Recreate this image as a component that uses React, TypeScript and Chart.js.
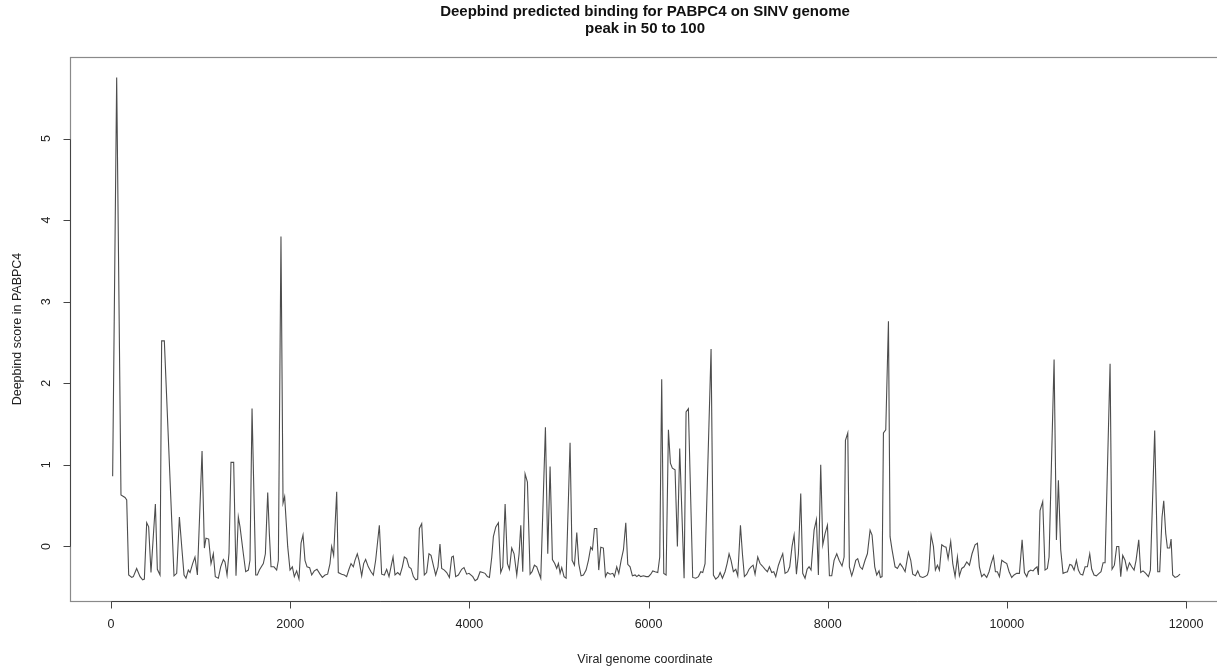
import React, { useEffect, useRef } from "react";
import { Chart, registerables } from "chart.js";

Chart.register(...registerables);

const TITLE_LINES = ["Deepbind predicted binding for PABPC4 on SINV genome", "peak in 50 to 100"];
const X_TITLE = "Viral genome coordinate";
const Y_TITLE = "Deepbind score in PABPC4";
const X_TICKS = [0, 2000, 4000, 6000, 8000, 10000, 12000];
const Y_TICKS = [0, 1, 2, 3, 4, 5];

// [genome coordinate, deepbind score]
const SEG_0_2000: [number, number][] = [
  [18, 0.86], [63, 5.75], [111, 0.63], [156, 0.6], [175, 0.57], [197, -0.35], [231, -0.38], [249, -0.37],
  [286, -0.27], [324, -0.37], [353, -0.41], [372, -0.4], [398, 0.29], [420, 0.24], [446, -0.32], [495, 0.52],
  [517, -0.28], [547, -0.35], [565, 2.52], [595, 2.52], [703, -0.36], [733, -0.33], [763, 0.36], [789, 0.0],
  [815, -0.35], [837, -0.39], [863, -0.29], [882, -0.32], [911, -0.21], [937, -0.13], [964, -0.35], [1016, 1.17],
  [1042, -0.02], [1060, 0.1], [1090, 0.09], [1116, -0.21], [1142, -0.09], [1164, -0.37], [1198, -0.39], [1224, -0.25],
  [1254, -0.16], [1272, -0.19], [1295, -0.35], [1317, -0.08], [1339, 1.03], [1369, 1.03], [1395, -0.36], [1421, 0.36],
  [1440, 0.24], [1477, -0.09], [1503, -0.31], [1533, -0.29], [1551, -0.17], [1574, 1.69], [1615, -0.35], [1633, -0.35],
  [1656, -0.29], [1700, -0.21], [1723, -0.09], [1749, 0.66], [1767, 0.16], [1786, -0.25], [1819, -0.25], [1849, -0.29],
  [1868, -0.17], [1897, 3.8], [1920, 0.53], [1938, 0.61], [1972, 0.0], [1998, -0.29],
];
const SEG_2000_4000: [number, number][] = [
  [2024, -0.25], [2046, -0.37], [2072, -0.3], [2098, -0.4], [2121, 0.04], [2143, 0.14], [2165, -0.17], [2188, -0.25],
  [2217, -0.26], [2240, -0.35], [2269, -0.3], [2299, -0.28], [2333, -0.34], [2359, -0.38], [2389, -0.35], [2418, -0.34],
  [2444, -0.21], [2463, 0.0], [2485, -0.11], [2519, 0.67], [2537, -0.32], [2575, -0.34], [2604, -0.35], [2630, -0.37],
  [2656, -0.28], [2679, -0.21], [2705, -0.25], [2723, -0.17], [2749, -0.09], [2768, -0.17], [2798, -0.36], [2820, -0.21],
  [2842, -0.16], [2872, -0.25], [2902, -0.31], [2928, -0.35], [2954, -0.17], [2995, 0.26], [3021, -0.34], [3051, -0.35],
  [3077, -0.28], [3103, -0.37], [3125, -0.25], [3148, -0.13], [3170, -0.35], [3200, -0.32], [3226, -0.35], [3252, -0.25],
  [3274, -0.13], [3300, -0.15], [3326, -0.25], [3349, -0.27], [3375, -0.37], [3401, -0.41], [3423, -0.4], [3442, 0.22],
  [3468, 0.28], [3497, -0.35], [3523, -0.32], [3549, -0.09], [3572, -0.11], [3602, -0.25], [3624, -0.35], [3650, -0.25],
  [3672, 0.03], [3691, -0.27], [3721, -0.29], [3747, -0.32], [3777, -0.38], [3803, -0.13], [3821, -0.12], [3847, -0.37],
  [3877, -0.35], [3914, -0.28], [3940, -0.26], [3970, -0.34], [3996, -0.33],
];
const SEG_4000_6000: [number, number][] = [
  [4038, -0.37], [4064, -0.42], [4090, -0.4], [4120, -0.31], [4149, -0.32], [4175, -0.33], [4201, -0.37], [4224, -0.38],
  [4250, -0.13], [4268, 0.12], [4295, 0.24], [4324, 0.29], [4350, -0.32], [4373, -0.25], [4399, 0.52], [4425, -0.21],
  [4447, -0.28], [4473, -0.02], [4499, -0.09], [4529, -0.35], [4555, -0.09], [4574, 0.26], [4596, -0.31], [4622, 0.89],
  [4648, 0.79], [4678, -0.34], [4700, -0.31], [4726, -0.23], [4752, -0.25], [4771, -0.31], [4797, -0.39], [4849, 1.46],
  [4875, -0.09], [4901, 0.98], [4927, -0.16], [4953, -0.21], [4975, -0.27], [4994, -0.21], [5013, -0.33], [5031, -0.26],
  [5057, -0.37], [5080, -0.39], [5124, 1.27], [5147, -0.17], [5173, -0.23], [5199, 0.17], [5221, -0.21], [5247, -0.36],
  [5273, -0.35], [5303, -0.29], [5329, -0.17], [5355, -0.01], [5374, -0.04], [5396, 0.22], [5422, 0.22], [5444, -0.29],
  [5467, -0.01], [5496, -0.02], [5519, -0.37], [5541, -0.32], [5571, -0.34], [5601, -0.33], [5619, -0.37], [5645, -0.25],
  [5668, -0.33], [5694, -0.17], [5720, -0.04], [5746, 0.29], [5768, -0.22], [5794, -0.25], [5820, -0.36], [5850, -0.35],
  [5869, -0.37], [5891, -0.35], [5913, -0.37], [5943, -0.36], [5973, -0.37], [5999, -0.37],
];
const SEG_6000_8000: [number, number][] = [
  [6025, -0.34], [6047, -0.3], [6073, -0.31], [6103, -0.32], [6125, -0.13], [6147, 2.05], [6170, -0.33], [6196, -0.35],
  [6222, 1.43], [6244, 1.02], [6266, 0.96], [6296, 0.94], [6322, 0.0], [6348, 1.2], [6397, -0.39], [6419, 1.65],
  [6445, 1.69], [6493, -0.38], [6527, -0.39], [6557, -0.37], [6583, -0.31], [6605, -0.32], [6631, -0.21], [6698, 2.42],
  [6724, -0.35], [6750, -0.4], [6780, -0.37], [6799, -0.32], [6825, -0.39], [6854, -0.31], [6877, -0.21], [6899, -0.09],
  [6921, -0.17], [6947, -0.31], [6974, -0.28], [6996, -0.36], [7026, 0.26], [7048, -0.09], [7070, -0.37], [7096, -0.34],
  [7122, -0.28], [7145, -0.25], [7167, -0.23], [7189, -0.34], [7219, -0.13], [7245, -0.21], [7271, -0.24], [7301, -0.28],
  [7327, -0.31], [7349, -0.25], [7375, -0.32], [7398, -0.31], [7420, -0.37], [7450, -0.23], [7476, -0.15], [7498, -0.09],
  [7524, -0.33], [7554, -0.31], [7576, -0.25], [7602, 0.0], [7625, 0.14], [7651, -0.34], [7673, -0.09], [7699, 0.65],
  [7721, -0.33], [7747, -0.39], [7770, -0.28], [7792, -0.25], [7814, -0.29], [7848, 0.2], [7874, 0.33], [7896, -0.35],
  [7922, 1.0], [7945, 0.02], [7971, 0.16], [7997, 0.26],
];
const SEG_8000_10000: [number, number][] = [
  [8019, -0.36], [8045, -0.36], [8071, -0.17], [8101, -0.09], [8127, -0.17], [8160, -0.24], [8183, -0.13], [8198, 1.3],
  [8224, 1.39], [8242, -0.25], [8268, -0.36], [8287, -0.29], [8313, -0.17], [8335, -0.15], [8361, -0.25], [8387, -0.28],
  [8417, -0.17], [8443, -0.09], [8473, 0.2], [8495, 0.14], [8525, -0.25], [8547, -0.35], [8573, -0.3], [8588, -0.38],
  [8607, -0.37], [8622, 1.39], [8648, 1.43], [8678, 2.76], [8696, 0.12], [8718, -0.04], [8752, -0.25], [8778, -0.27],
  [8808, -0.21], [8834, -0.25], [8864, -0.31], [8901, -0.07], [8927, -0.17], [8949, -0.34], [8979, -0.36], [9005, -0.3],
  [9031, -0.37], [9061, -0.38], [9087, -0.37], [9113, -0.35], [9128, -0.29], [9154, 0.14], [9180, 0.0], [9202, -0.29],
  [9225, -0.23], [9247, -0.29], [9273, 0.02], [9299, 0.0], [9321, -0.01], [9344, -0.15], [9373, 0.06], [9396, -0.21],
  [9422, -0.37], [9448, -0.13], [9470, -0.36], [9496, -0.27], [9522, -0.25], [9552, -0.19], [9582, -0.23], [9611, -0.09],
  [9645, 0.02], [9671, 0.04], [9693, -0.25], [9719, -0.37], [9745, -0.34], [9775, -0.38], [9801, -0.31], [9824, -0.21],
  [9850, -0.12], [9872, -0.31], [9894, -0.31], [9917, -0.37], [9943, -0.17], [9969, -0.19], [9999, -0.21],
];
const SEG_10000_12000: [number, number][] = [
  [10025, -0.31], [10054, -0.38], [10080, -0.35], [10110, -0.33], [10140, -0.33], [10170, 0.08], [10196, -0.32], [10222, -0.37],
  [10240, -0.31], [10266, -0.29], [10292, -0.3], [10315, -0.27], [10337, -0.25], [10352, -0.35], [10370, 0.44], [10400, 0.55],
  [10426, -0.29], [10452, -0.27], [10471, -0.13], [10527, 2.29], [10553, 0.08], [10575, 0.81], [10601, -0.04], [10627, -0.33],
  [10650, -0.32], [10676, -0.31], [10702, -0.22], [10724, -0.23], [10750, -0.29], [10776, -0.17], [10798, -0.29], [10821, -0.34],
  [10847, -0.35], [10873, -0.25], [10899, -0.25], [10925, -0.09], [10947, -0.28], [10973, -0.35], [10999, -0.36], [11029, -0.33],
  [11051, -0.31], [11074, -0.2], [11096, -0.2], [11152, 2.24], [11174, -0.28], [11200, -0.23], [11226, 0.0], [11249, 0.0],
  [11271, -0.37], [11293, -0.11], [11319, -0.17], [11342, -0.29], [11368, -0.2], [11394, -0.25], [11420, -0.29], [11442, -0.17],
  [11472, 0.08], [11494, -0.32], [11520, -0.3], [11550, -0.33], [11580, -0.37], [11602, -0.29], [11650, 1.42], [11684, -0.31],
  [11706, -0.31], [11732, 0.36], [11751, 0.56], [11773, 0.16], [11792, -0.02], [11818, -0.02], [11833, 0.09], [11851, -0.35],
  [11877, -0.38], [11903, -0.37], [11933, -0.34],
];

const X_MIN = -458;
const X_MAX = 12379;
const Y_MIN = -0.669;
const Y_MAX = 6.0;

const FONT = '"Liberation Sans", Arial, Helvetica, sans-serif';

const rAxesPlugin = {
  id: "rAxes",
  afterDraw(chart: any) {
    const { ctx, chartArea: a, scales } = chart;
    const xs = scales.x;
    const ys = scales.y;
    ctx.save();
    // plot box
    ctx.strokeStyle = "#8a8a8a";
    ctx.lineWidth = 1.2;
    ctx.strokeRect(Math.round(a.left) + 0.5, Math.round(a.top) + 0.5, Math.round(a.right - a.left), Math.round(a.bottom - a.top));

    // x axis
    ctx.strokeStyle = "#444";
    ctx.lineWidth = 1;
    const bottom = Math.round(a.bottom) + 0.5;
    const xa = Math.round(xs.getPixelForValue(X_TICKS[0])) + 0.5;
    const xb = Math.round(xs.getPixelForValue(X_TICKS[X_TICKS.length - 1])) + 0.5;
    ctx.beginPath();
    ctx.moveTo(xa, bottom);
    ctx.lineTo(xb, bottom);
    X_TICKS.forEach((t) => {
      const px = Math.round(xs.getPixelForValue(t)) + 0.5;
      ctx.moveTo(px, bottom);
      ctx.lineTo(px, bottom + 7);
    });
    ctx.stroke();
    ctx.fillStyle = "#222";
    ctx.font = `12.5px ${FONT}`;
    ctx.textAlign = "center";
    ctx.textBaseline = "middle";
    X_TICKS.forEach((t) => {
      ctx.fillText(String(t), xs.getPixelForValue(t), 625);
    });

    // y axis
    const left = Math.round(a.left) + 0.5;
    const ya = Math.round(ys.getPixelForValue(Y_TICKS[0])) + 0.5;
    const yb = Math.round(ys.getPixelForValue(Y_TICKS[Y_TICKS.length - 1])) + 0.5;
    ctx.beginPath();
    ctx.moveTo(left, ya);
    ctx.lineTo(left, yb);
    Y_TICKS.forEach((t) => {
      const py = Math.round(ys.getPixelForValue(t)) + 0.5;
      ctx.moveTo(left, py);
      ctx.lineTo(left - 7, py);
    });
    ctx.stroke();
    Y_TICKS.forEach((t) => {
      ctx.save();
      ctx.translate(47, ys.getPixelForValue(t));
      ctx.rotate(-Math.PI / 2);
      ctx.fillText(String(t), 0, 0);
      ctx.restore();
    });

    // titles
    const cx = (a.left + a.right) / 2;
    ctx.font = `bold 15px ${FONT}`;
    ctx.fillStyle = "#111";
    ctx.fillText(TITLE_LINES[0], cx, 12);
    ctx.fillText(TITLE_LINES[1], cx, 29);
    ctx.font = `12.5px ${FONT}`;
    ctx.fillStyle = "#222";
    ctx.fillText(X_TITLE, cx, 660);
    ctx.save();
    ctx.translate(18, (a.top + a.bottom) / 2);
    ctx.rotate(-Math.PI / 2);
    ctx.fillText(Y_TITLE, 0, 0);
    ctx.restore();
    ctx.restore();
  },
};

export default function App() {
  const canvasRef = useRef<HTMLCanvasElement | null>(null);

  useEffect(() => {
    const canvas = canvasRef.current;
    if (!canvas) return;
    const points = [
      ...SEG_0_2000,
      ...SEG_2000_4000,
      ...SEG_4000_6000,
      ...SEG_6000_8000,
      ...SEG_8000_10000,
      ...SEG_10000_12000,
    ].map(([x, y]) => ({ x, y }));

    const chart = new Chart(canvas, {
      type: "line",
      data: {
        datasets: [
          {
            data: points,
            borderColor: "#4d4d4d",
            borderWidth: 1.1,
            pointRadius: 0,
            tension: 0,
            fill: false,
          },
        ],
      },
      options: {
        animation: false,
        responsive: false,
        devicePixelRatio: 1,
        parsing: false as any,
        layout: { padding: { left: 70, top: 57, right: 2, bottom: 66 } },
        plugins: { legend: { display: false }, tooltip: { enabled: false }, title: { display: false } },
        scales: {
          x: { type: "linear", min: X_MIN, max: X_MAX, display: false },
          y: { type: "linear", min: Y_MIN, max: Y_MAX, display: false },
        },
      },
      plugins: [rAxesPlugin],
    });
    return () => chart.destroy();
  }, []);

  return (
    <div style={{ position: "fixed", left: 0, top: 0, width: 1217, height: 667, overflow: "hidden", background: "#fff" }}>
      <canvas ref={canvasRef} width={1222} height={667} style={{ width: 1222, height: 667, display: "block" }} />
    </div>
  );
}
